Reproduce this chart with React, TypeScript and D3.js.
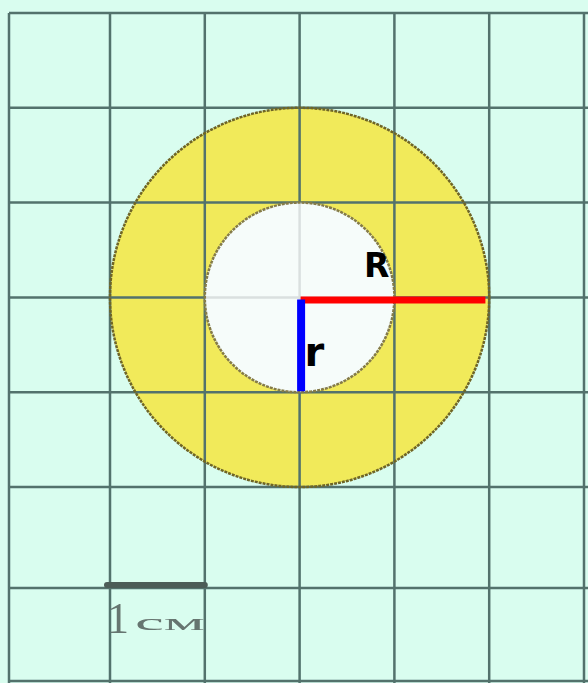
import * as d3 from 'd3'
import { useEffect } from 'react'

// grid lines, in cm (1 cell = 1 cm)
const gridX = [0, 1, 2, 3, 4, 5, 6]
const gridY = [0, 1, 2, 3, 4, 5, 6, 7]
const center = { x: 3, y: 3 }
const outerR = 2
const innerR = 1
const scaleBar = [1, 2]

export default function App() {
  useEffect(() => {
    document.body.style.margin = '0'
  }, [])

  const width = 588
  const height = 683

  // the picture's cells are not perfectly even, so piecewise scales
  const x = d3.scaleLinear().domain([0, 1, 6]).range([9, 110, 584])
  const y = d3.scaleLinear().domain([0, 5, 6, 7]).range([13, 487, 588, 681])
  const unit = x(2) - x(1)

  const cx = x(center.x)
  const cy = y(center.y)

  const annulus = d3.arc()({
    innerRadius: innerR * unit,
    outerRadius: outerR * unit,
    startAngle: 0,
    endAngle: 2 * Math.PI,
  }) as string

  return (
    <svg width={width} height={height} style={{ display: 'block' }}>
      <defs>
        <filter id="soft" x="-5%" y="-5%" width="110%" height="110%">
          <feGaussianBlur stdDeviation="0.6" />
        </filter>
      </defs>
      <rect width={width} height={height} fill="#d9fdef" />

      <g transform={`translate(${cx},${cy})`}>
        <path d={annulus} fill="#f1ea5a" />
      </g>

      <g stroke="#52726c" strokeWidth={2.5} filter="url(#soft)">
        {gridX.map(d => (
          <line key={'x' + d} x1={x(d)} x2={x(d)} y1={y(0)} y2={height} />
        ))}
        {gridY.map(d => (
          <line key={'y' + d} x1={x(0)} x2={width} y1={y(d)} y2={y(d)} />
        ))}
      </g>

      <circle cx={cx} cy={cy} r={innerR * unit} fill="#fcfbfd" opacity={0.8} />
      <circle cx={cx} cy={cy} r={outerR * unit} fill="none" stroke="#6f6526" strokeWidth={2.5} strokeDasharray="3 1" />
      <circle cx={cx} cy={cy} r={innerR * unit} fill="none" stroke="#857b48" strokeWidth={2.5} strokeDasharray="3 1" />

      <line x1={cx + 1} x2={cx + (outerR - 0.04) * unit} y1={cy + 2.5} y2={cy + 2.5} stroke="#ff0000" strokeWidth={7} />
      <line x1={cx + 1.5} x2={cx + 1.5} y1={cy + 2} y2={cy + innerR * unit - 1} stroke="#0000ff" strokeWidth={8} />

      <text x={cx + 0.68 * unit} y={cy - 20} fontFamily="DejaVu Sans" fontWeight="bold" fontSize={33} fill="#000">R</text>
      <text x={cx + 5} y={cy + 69} fontFamily="DejaVu Sans" fontWeight="bold" fontSize={40} fill="#000">r</text>

      <line x1={x(scaleBar[0]) - 3} x2={x(scaleBar[1])} y1={y(6) - 3} y2={y(6) - 3} stroke="#4c5c57" strokeWidth={6} strokeLinecap="round" />
      <g fill="#66746f" fontFamily="Liberation Serif" filter="url(#soft)">
        <text x={x(scaleBar[0]) - 3} y={633} fontSize={44}>1</text>
        <text x={x(scaleBar[0]) + 25} y={630} fontSize={24} textLength={70} lengthAdjust="spacingAndGlyphs">см</text>
      </g>
    </svg>
  )
}
